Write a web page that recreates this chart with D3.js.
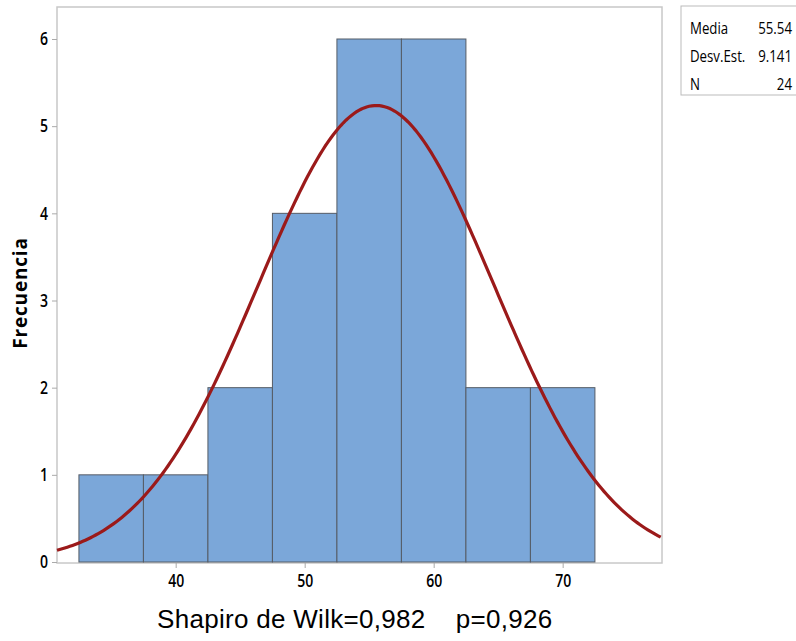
<!DOCTYPE html>
<html>
<head>
<meta charset="utf-8">
<script src="https://cdn.jsdelivr.net/npm/d3@7"></script>
<style>
  body { margin: 0; background: #fff; }
  svg { display: block; }
  .tick text { font-family: "Open Sans", sans-serif; font-size: 18px; font-weight: 600; fill: #000; }
</style>
</head>
<body>
<svg id="chart" width="796" height="641"></svg>
<script>
// histogram bins (centres, width 5) and counts
const binCenters = [35, 40, 45, 50, 55, 60, 65, 70];
const counts = [1, 1, 2, 4, 6, 6, 2, 2];
const binWidth = 5;
const xTicks = [40, 50, 60, 70];
const yTicks = [0, 1, 2, 3, 4, 5, 6];

// summary stats shown in the box
const statLabels = ["Media", "Desv.Est.", "N"];
const statValues = ["55.54", "9.141", "24"];
const mean = 55.54, sd = 9.141, n = 24;

const svg = d3.select("#chart");
const plotL = 57, plotR = 662, plotT = 7, plotB = 563;
const squeeze = 0.78; // condensed look of the labels

const x = d3.scaleLinear().domain([30.8, 77.7]).range([plotL, plotR]);
const y = d3.scaleLinear().domain([0, 6]).range([562, 39]);

// frame
svg.append("rect")
  .attr("x", plotL).attr("y", plotT)
  .attr("width", plotR - plotL).attr("height", plotB - plotT)
  .attr("fill", "none").attr("stroke", "#c8c8c8").attr("stroke-width", 1.5);

// bars
svg.append("g").selectAll("rect")
  .data(binCenters)
  .join("rect")
  .attr("x", (d) => x(d - binWidth / 2))
  .attr("y", (d, i) => y(counts[i]))
  .attr("width", (d) => x(d + binWidth / 2) - x(d - binWidth / 2))
  .attr("height", (d, i) => y(0) - y(counts[i]))
  .attr("fill", "#7ba7d9")
  .attr("stroke", "#555c66")
  .attr("stroke-width", 1);

// fitted normal curve
const scale = n * binWidth / (sd * Math.sqrt(2 * Math.PI));
const curveX = d3.range(30.8, 77.71, 0.2);
const line = d3.line()
  .x((d) => x(d))
  .y((d) => y(scale * Math.exp(-0.5 * ((d - mean) / sd) ** 2)));

svg.append("path")
  .datum(curveX)
  .attr("d", line)
  .attr("fill", "none")
  .attr("stroke", "#9b1a1a")
  .attr("stroke-width", 3.2);

// axes
const xAxis = svg.append("g")
  .attr("transform", `translate(0,${plotB})`)
  .call(d3.axisBottom(x).tickValues(xTicks).tickFormat(d3.format("d")).tickSize(5).tickPadding(6));
const yAxis = svg.append("g")
  .attr("transform", `translate(${plotL},0)`)
  .call(d3.axisLeft(y).tickValues(yTicks).tickFormat(d3.format("d")).tickSize(5).tickPadding(4));
[xAxis, yAxis].forEach((g) => {
  g.select(".domain").remove();
  g.selectAll(".tick line").attr("stroke", "#aaa");
});
xAxis.selectAll(".tick text").attr("transform", `scale(${squeeze},1)`);
yAxis.selectAll(".tick text")
  .attr("x", -9 / squeeze)
  .attr("transform", `scale(${squeeze},1)`);

// axis titles
svg.append("text")
  .attr("transform", "translate(27,293) rotate(-90)")
  .attr("text-anchor", "middle")
  .attr("font-family", "Open Sans, sans-serif")
  .attr("font-weight", "bold")
  .attr("font-size", 19)
  .attr("letter-spacing", 0.8)
  .text("Frecuencia");

svg.append("text")
  .attr("x", 157).attr("y", 628)
  .attr("font-family", "Liberation Sans, Arial, sans-serif")
  .attr("font-size", 26)
  .attr("letter-spacing", 0.3)
  .style("white-space", "pre")
  .text("Shapiro de Wilk=0,982    p=0,926");

// stats box
svg.append("rect")
  .attr("x", 681).attr("y", 6)
  .attr("width", 120).attr("height", 89)
  .attr("fill", "#fff").attr("stroke", "#bbb");

const stats = svg.append("g")
  .attr("transform", `translate(690,0) scale(${squeeze},1)`)
  .attr("font-family", "Open Sans, sans-serif")
  .attr("font-size", 17);
statLabels.forEach((lab, i) => {
  stats.append("text").attr("x", 0).attr("y", 34 + i * 28).text(lab);
  stats.append("text").attr("x", (792 - 690) / squeeze).attr("y", 34 + i * 28)
    .attr("text-anchor", "end").text(statValues[i]);
});
</script>
</body>
</html>
